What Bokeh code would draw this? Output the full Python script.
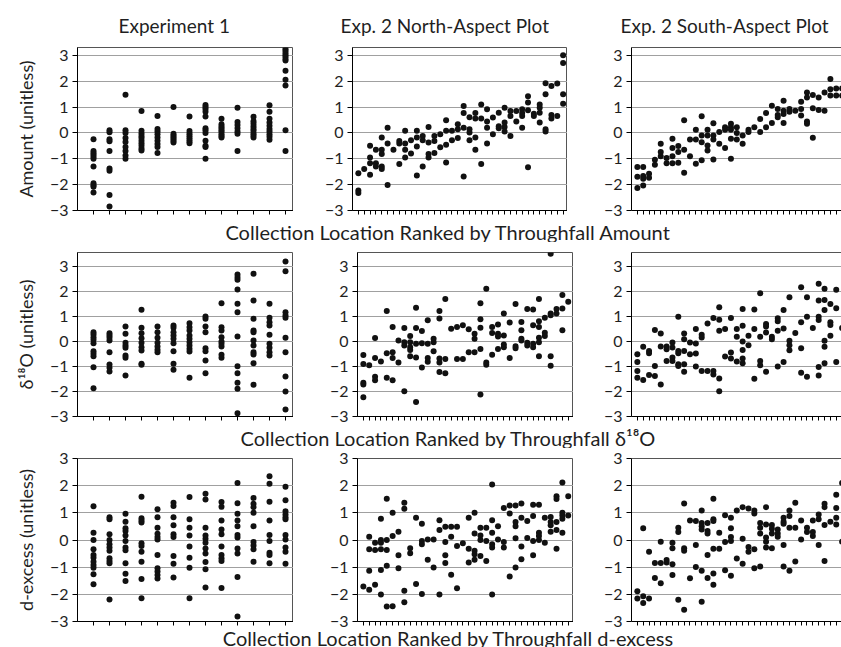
from bokeh.plotting import figure
from bokeh.layouts import column, row
from bokeh.models import FixedTicker, Label, LinearAxis, Range1d
from bokeh.embed import file_html
from bokeh.resources import INLINE

FONT = "Lato"
TXT = "#1f1f1f"
GRID = "#a0a0a0"
OUTLINE = "#555555"

titles = ["Experiment 1", "Exp. 2 North-Aspect Plot", "Exp. 2 South-Aspect Plot"]
ylabels = ["Amount (unitless)", "\u03b4\u00b9\u2078O (unitless)", "d-excess (unitless)"]
rowlabels = ["Collection Location Ranked by Throughfall Amount",
             "Collection Location Ranked by Throughfall \u03b4\u00b9\u2078O",
             "Collection Location Ranked by Throughfall d-excess"]
ytick_values = [-3, -2, -1, 0, 1, 2, 3]

# ---- Experiment 1 (13 locations) ----
e1_amount = [
    [-0.25, -0.7, -0.78, -0.85, -0.92, -1.0, -1.3, -1.95, -2.02, -2.08, -2.3],
    [0.1, 0.02, -0.25, -0.32, -0.7, -1.38, -1.46, -2.4, -2.85],
    [1.47, 0.1, 0.0, -0.2, -0.35, -0.55, -0.7, -0.87, -1.0],
    [0.85, 0.08, -0.02, -0.12, -0.2, -0.3, -0.4, -0.5, -0.6, -0.68],
    [0.65, 0.15, 0.05, -0.05, -0.18, -0.3, -0.43, -0.55, -0.78],
    [1.0, -0.03, -0.1, -0.17, -0.24, -0.3, -0.37],
    [0.63, 0.07, -0.02, -0.1, -0.18, -0.26, -0.33, -0.4],
    [1.08, 1.0, 0.92, 0.82, 0.63, 0.18, 0.1, 0.0, -0.3, -0.5, -0.55, -1.0],
    [0.55, 0.33, 0.25, 0.18, 0.1, 0.03, -0.05, -0.12, -0.18],
    [0.97, 0.42, 0.3, 0.18, 0.05, -0.03, -0.7],
    [0.62, 0.45, 0.35, 0.25, 0.15, 0.07, -0.02, -0.1, -0.18],
    [1.07, 0.82, 0.55, 0.4, 0.28, 0.15, 0.05, -0.05, -0.15, -0.27],
    [3.25, 3.18, 3.1, 3.02, 2.95, 2.87, 2.8, 2.4, 2.05, 1.83, 0.1, -0.7],
]
e1_d18o = [
    [0.37, 0.28, 0.17, 0.07, -0.07, -0.39, -0.49, -0.59, -1.03, -1.87],
    [0.33, 0.24, 0.15, 0.04, -0.43, -0.92, -1.05, -1.2],
    [0.6, 0.31, -0.05, -0.16, -0.25, -0.56, -0.65, -1.36],
    [1.27, 0.55, 0.33, 0.13, -0.05, -0.23, -0.36, -0.89, -0.93],
    [0.6, 0.37, 0.15, -0.05, -0.2, -0.33, -0.43],
    [0.64, 0.55, 0.37, 0.24, 0.11, -0.07, -0.39, -0.89, -1.13],
    [0.73, 0.57, 0.44, 0.24, 0.11, -0.03, -0.16, -0.29, -0.4, -1.45],
    [1.0, 0.91, 0.6, 0.37, -0.27, -0.39, -0.76, -1.27],
    [1.53, 0.57, 0.44, 0.17, 0.0, -0.09, -0.2, -0.53, -0.65],
    [2.68, 2.57, 2.47, 2.08, 1.51, 1.17, 0.2, -0.99, -1.27, -1.65, -1.89, -2.87],
    [2.71, 1.64, 0.91, 0.44, 0.37, 0.04, -0.16, -0.43, -0.52, -0.87, -1.73],
    [1.51, 0.95, 0.77, 0.64, 0.27, -0.09, -0.25, -0.43, -0.56],
    [3.2, 2.81, 1.17, 1.04, 0.95, 0.15, -0.43, -1.4, -2.0, -2.72],
]
e1_dex = [
    [1.24, 0.27, 0.0, -0.34, -0.55, -0.65, -0.8, -0.92, -1.02, -1.26, -1.63],
    [0.84, 0.76, 0.21, 0.0, -0.16, -0.28, -0.4, -0.67, -0.77, -0.86, -2.19],
    [0.97, 0.67, 0.43, 0.33, 0.17, -0.04, -0.28, -0.38, -0.86, -1.24, -1.51],
    [1.59, 0.8, 0.72, 0.64, -0.12, -0.22, -0.43, -0.8, -1.44, -2.14],
    [1.13, 0.84, 0.45, 0.23, 0.11, 0.02, -0.55, -1.04, -1.16, -1.29, -1.42],
    [1.37, 1.25, 0.84, 0.54, 0.21, 0.11, -0.59, -0.87, -1.38],
    [1.58, 0.76, 0.45, 0.17, -0.24, -0.65, -1.02, -2.14],
    [1.7, 1.49, 0.45, 0.17, 0.05, -0.1, -0.31, -0.5, -0.81, -1.08, -1.75],
    [1.4, 1.22, 0.72, 0.39, 0.21, -0.24, -0.55, -0.67, -0.77, -1.77],
    [2.1, 1.35, 0.97, 0.72, 0.51, 0.18, 0.09, -0.31, -0.5, -1.36, -2.82],
    [1.55, 1.33, 1.21, 1.0, 0.51, -0.07, -0.2, -0.34, -0.8],
    [2.35, 2.07, 1.41, 0.72, 0.18, -0.04, -0.47, -0.55, -0.86],
    [1.96, 1.46, 1.06, 0.94, 0.84, 0.76, 0.18, 0.02, -0.28, -0.43, -0.87],
]

# ---- Exp. 2 North-aspect plot (36 locations) ----
north_amount = [
    [-1.56, -2.23, -2.32], [-1.4], [-0.5, -0.95, -1.17, -1.62], [-0.65, -1.17, -1.3],
    [-0.18, -0.65, -0.82, -1.3, -1.4], [0.2, -0.41, -2.01], [-0.65], [-0.31, -0.41, -1.2],
    [0.08, -0.41, -0.65, -0.95], [-0.28, -0.8], [0.08, -0.18, -0.53, -1.65], [-0.12, -0.28, -1.3],
    [0.23, -0.37, -0.82, -0.95], [-0.12, -0.31, -0.78], [-0.05, -0.56], [0.49, 0.08, -0.46, -1.14],
    [0.08, -0.28], [0.33, 0.14, -0.2], [1.04, 0.77, 0.2, -1.69], [0.6, 0.14, 0.01, -0.28],
    [0.77, 0.56, -0.18, -0.65], [1.1, 0.56, -1.2], [0.91, 0.44, 0.2, -0.41], [0.59, -0.05],
    [0.78, 0.26, 0.18], [0.97, 0.4, 0.23, 0.05], [0.85, 0.65, -0.12], [0.85, 0.44],
    [0.91, 0.77, 0.65, 0.2], [1.42, 1.17, 0.87, -1.33], [0.74, 0.65], [1.1, 0.97, 0.78, 0.4],
    [1.92, 1.49, 0.14, 0.05], [1.81, 0.69, 0.56], [1.91, 0.65], [3.0, 2.7, 1.49, 1.13],
]
north_d18o = [
    [-0.54, -0.9, -1.65, -1.72, -2.23], [-0.95], [0.14, -0.66, -1.41, -1.55], [-0.8],
    [1.22, -0.47, -1.45], [0.58, -0.43, -0.66, -1.55], [0.04, -0.84], [0.54, -0.03, -0.16, -1.99],
    [0.22, -0.03, -0.23, -0.34, -0.59], [1.35, 0.54, -0.09, -0.64, -2.42], [0.42, -0.07, -1.04],
    [0.85, -0.09, -0.66, -0.81], [0.11, -0.03, -0.39], [1.22, 0.92, -0.68, -0.84, -1.22],
    [1.7, -0.7, -1.27], [0.51], [0.58, -0.7], [0.65, -0.7], [0.49, -0.43], [0.31, 0.11, -0.43],
    [1.53, 0.89, 0.55, -0.3, -2.12], [2.11, -0.84, -0.93], [0.58, 0.34, -0.53],
    [0.68, 0.31, 0.2, -0.3], [1.12, 0.24, -0.12, -0.23], [0.76, -0.66], [1.5, -0.19, -0.27],
    [0.78, 0.45, 0.11, 0.04], [1.3, -0.05, -0.16], [1.28, 0.65, -0.09, -0.23],
    [1.7, 0.81, 0.58, 0.15, -0.03, -0.59], [0.95, 0.35, 0.22], [3.51, 1.12, 1.05, -0.59, -0.97],
    [1.3, 1.12], [1.86, 1.32, 0.45], [1.59],
]
north_dex = [
    [-1.71], [0.12, -0.34, -1.13, -1.83], [-0.1, -0.37, -1.65], [0.78, 0.0, -0.1, -0.34, -1.1, -2.01],
    [1.52, 0.0, -0.37, -0.95, -2.45], [1.0, 0.15, -2.44], [0.3, -0.56, -1.04], [1.37, 1.15, -1.87, -2.29],
    [-0.3, -0.49], [0.82, -1.62], [0.6, -0.04, -0.16, -1.99], [0.02, -0.73], [0.02, -1.01],
    [0.73, 0.37, -2.01], [0.49, -0.07, -0.56, -0.85], [0.49, 0.12, -1.28], [0.49, -0.22, -1.78],
    [-0.12], [0.82, -0.32, -0.83], [1.0, 0.24, -0.4, -0.52, -0.73], [0.45, 0.17, 0.0, -0.59],
    [0.45, -0.04, -0.77], [2.04, 0.73, 0.27, -0.16, -0.28, -2.01], [0.51, 0.02], [1.18, -0.07, -0.28],
    [1.27, 0.98, -1.34], [1.27, 0.66, 0.51, 0.06, -1.01], [1.34, 0.82, -0.24, -0.71], [0.7, 0.07],
    [1.3, 0.88, -0.04, -0.56], [1.3, 0.27, 0.15, 0.0], [0.82, -0.1], [0.85, 0.66, 0.54, 0.3],
    [1.61, 1.51, 0.66, 0.37, -0.32], [2.12, 1.0, 0.9, 0.78, 0.27], [1.61, 0.9],
]

# ---- Exp. 2 South-aspect plot (36 locations) ----
south_amount = [
    [-1.32, -1.7, -2.13], [-1.32, -1.67, -1.77, -2.03], [-1.58, -1.73], [-1.04, -1.23],
    [-0.42, -0.74, -0.9], [-0.97, -1.17], [-0.23, -0.58, -0.9, -1.17], [-0.51, -0.74, -1.15],
    [0.49, -0.65, -1.54], [-0.26, -0.9], [0.12, -0.26, -1.19], [0.64, -0.1, -0.36, -1.06],
    [0.12, -0.1, -0.49, -0.68], [0.37, -0.1, -0.26, -1.03], [0.03, -0.42], [0.22, 0.12, -0.58],
    [0.35, 0.22, 0.12, -0.23, -1.0], [0.22, 0.0, -0.26], [-0.1, -0.42], [0.12, 0.03], [0.22],
    [0.54, 0.03], [0.77, 0.22], [1.05, 0.38], [0.92, 0.69, 0.6], [1.24, 0.86, 0.73, 0.38],
    [0.92, 0.82], [0.86], [1.2, 0.92, 0.67], [1.56, 1.37, 0.44, 0.35], [1.46, 0.95, -0.19],
    [1.37, 0.88], [1.56, 0.86], [2.08, 1.69, 1.44], [1.72, 1.44], [1.72, 1.44],
]
south_d18o = [
    [-0.51, -0.82, -1.18, -1.45], [-0.21, -1.54], [-0.38, -0.47, -1.34], [0.46, -0.98, -1.38],
    [0.32, -0.2, -1.72], [-0.2, -0.31, -0.78], [-0.04, -0.24, -0.64, -0.78],
    [0.99, -0.38, -0.47, -0.91, -0.98], [0.32, 0.09, -0.38, -0.91, -1.21], [-0.04, -0.51],
    [0.5, -0.08, -0.48, -1.0], [0.27, 0.16, -1.18], [0.72, -1.18], [0.94, -1.18, -1.32],
    [1.37, 0.87, 0.43, -1.48, -1.99], [0.5, -0.6], [0.94, -0.44, -0.68], [0.5, 0.19, -0.8],
    [1.3, 0.63, 0.0, -0.34, -0.68, -0.87], [0.23, -0.15], [1.28, 0.5, -1.49],
    [1.93, 0.19, -0.78, -0.95], [0.7, 0.6, 0.36, -1.21], [0.19, 0.09], [0.93, 0.81, 0.43, -1.0],
    [1.26, 0.52, -0.82], [1.77, 0.03, -0.15, -0.35], [0.34], [2.17, 0.77, -0.27, -1.25],
    [1.77, 0.99, -1.41], [0.54], [2.31, 1.64, 0.99, 0.86, -1.02, -1.36],
    [2.11, 1.66, 1.26, 0.03, -0.21, -0.87], [1.5, 0.77, 0.66, 0.23], [2.07, 1.33, -0.82], [0.54],
]
south_dex = [
    [-1.89, -2.15], [0.43, -2.07, -2.32], [-0.43, -2.15], [-0.85, -1.4], [-0.06, -0.85, -1.59],
    [-0.74, -0.83], [-0.1, -0.3, -0.89, -1.29], [0.45, 0.29, -2.2], [1.34, -0.3, -0.4, -2.57],
    [0.72, -1.41], [0.7, -0.18, -0.99], [1.09, 0.63, 0.51, 0.39, -1.13, -2.27],
    [0.63, 0.33, 0.24, -0.55, -1.4], [1.52, 0.76, 0.7, -0.32, -1.23, -1.65], [0.27, -0.32],
    [0.91, -0.07, -1.11], [0.82, 0.43, 0.11, -0.04, -1.32], [1.09, -0.68], [1.21, 0.05, -0.87],
    [1.16, -0.26, -0.43], [1.09, 0.98, -0.34, -1.04], [0.63, 0.45, 0.24, -0.98],
    [1.21, 0.57, 0.09, -0.06, -0.28], [0.55, 0.41, 0.24, -0.3], [0.39, 0.24, 0.12],
    [0.82, 0.67, 0.6, -0.18, -0.98], [1.09, 0.88, 0.45, -1.13], [1.37, 0.45, -0.79], [0.72, 0.02],
    [0.45, 0.29], [0.72, 0.29, 0.15], [0.94, 0.76, -0.18], [1.33, 1.21, 0.55, -0.77], [0.67],
    [1.67, 1.18, 0.82, 0.57], [2.1, -0.06],
]


def flatten(groups):
    xs, ys = [], []
    for i, g in enumerate(groups, start=1):
        for v in g:
            xs.append(i)
            ys.append(v)
    return xs, ys


def panel(groups, width, height, left, top, bottom, xend, yr, title=None,
          title_offset=0, ylabel=None, open_right=False):
    p = figure(width=width, height=height, min_border_left=left, min_border_right=0,
               min_border_top=top, min_border_bottom=bottom,
               x_range=Range1d(0, xend), y_range=Range1d(*yr),
               toolbar_location=None, output_backend="svg",
               title=title)
    p.background_fill_color = "white"
    p.border_fill_color = "white"
    if title:
        p.title.text_font = FONT
        p.title.text_font_size = "19px"
        p.title.text_font_style = "normal"
        p.title.text_color = TXT
        p.title.align = "left"
        p.title.offset = title_offset
        p.title.standoff = 22
    n = len(groups)
    xa = p.below[0]
    xa.ticker = FixedTicker(ticks=[], minor_ticks=list(range(1, n + 1)))
    xa.major_tick_out = 0
    xa.major_tick_in = 0
    xa.minor_tick_out = 4
    xa.minor_tick_in = 0
    xa.major_label_standoff = 0
    xa.axis_label_standoff = 0
    xa.major_label_text_font_size = "0px"
    xa.axis_line_color = "black"
    xa.minor_tick_line_color = "black"
    ya = p.left[0]
    ya.ticker = FixedTicker(ticks=ytick_values)
    ya.minor_tick_line_color = None
    ya.major_tick_out = 5
    ya.major_tick_in = 0
    ya.major_label_standoff = 4
    ya.major_label_text_font = FONT
    ya.major_label_text_font_size = "16px"
    ya.major_label_text_color = TXT
    ya.axis_line_color = "black"
    ya.major_tick_line_color = "black"
    if ylabel:
        ya.axis_label = ylabel
        ya.axis_label_text_font = FONT
        ya.axis_label_text_font_size = "18px"
        ya.axis_label_text_font_style = "normal"
        ya.axis_label_text_color = TXT
        ya.axis_label_standoff = 10
    p.xgrid.visible = False
    p.ygrid.grid_line_color = GRID
    p.ygrid.grid_line_width = 1
    if open_right:
        p.outline_line_color = None
        top_ax = LinearAxis(ticker=FixedTicker(ticks=[]), axis_line_color=OUTLINE,
                            major_tick_line_color=None, minor_tick_line_color=None,
                            major_tick_out=0, major_tick_in=0, minor_tick_out=0, minor_tick_in=0,
                            major_label_standoff=0, major_label_text_font_size="0px",
                            axis_label_standoff=0)
        p.add_layout(top_ax, "above")
    else:
        p.outline_line_color = OUTLINE
        p.outline_line_width = 1
    xs, ys = flatten(groups)
    p.scatter(xs, ys, marker="circle", size=6, fill_color="#111111", line_color=None)
    return p


def strip(text, height, center_from_bottom):
    s = figure(width=841, height=height, min_border=0, toolbar_location=None,
               output_backend="svg", x_axis_type=None, y_axis_type=None, title=None,
               x_range=Range1d(0, 841), y_range=Range1d(0, height))
    s.outline_line_color = None
    s.grid.visible = False
    s.add_layout(Label(x=448, y=center_from_bottom,
                       text=text, text_align="center", text_baseline="middle",
                       text_font=FONT, text_font_size="20px", text_color=TXT))
    return s


rows_data = [
    (e1_amount, north_amount, south_amount),
    (e1_d18o, north_d18o, south_d18o),
    (e1_dex, north_dex, south_dex),
]
# (height, top border, bottom border, y range)
row_geom = [(219, 46, 9, (-3, 3.3)), (184, 10, 10, (-3, 3.56)), (179, 10, 6, (-3, 3))]
# (width, left border, x end)
col_geom = [
    [(293, 77, 13.5), (274, 59, 36.75), (274, 64, 35.9)],
    [(293, 77, 13.5), (280, 64, 36.9), (268, 58, 35.9)],
    [(293, 77, 13.5), (280, 64, 36.9), (268, 58, 35.9)],
]
title_offsets = [41, -12, -11]
# (height, label centre from bottom)
strip_geom = [(23, 11), (22, 11), (20, 10)]

items = []
for r in range(3):
    h, top, bottom, yr = row_geom[r]
    figs = []
    for c in range(3):
        w, left, xend = col_geom[r][c]
        figs.append(panel(rows_data[r][c], w, h, left, top, bottom, xend, yr,
                          title=titles[c] if r == 0 else None,
                          title_offset=title_offsets[c],
                          ylabel=ylabels[r] if c == 0 else None,
                          open_right=(c == 2)))
    items.append(row(*figs))
    sh, sc = strip_geom[r]
    items.append(strip(rowlabels[r], sh, sc))

layout = column(*items)
open("out.html", "w").write(file_html(layout, INLINE))
